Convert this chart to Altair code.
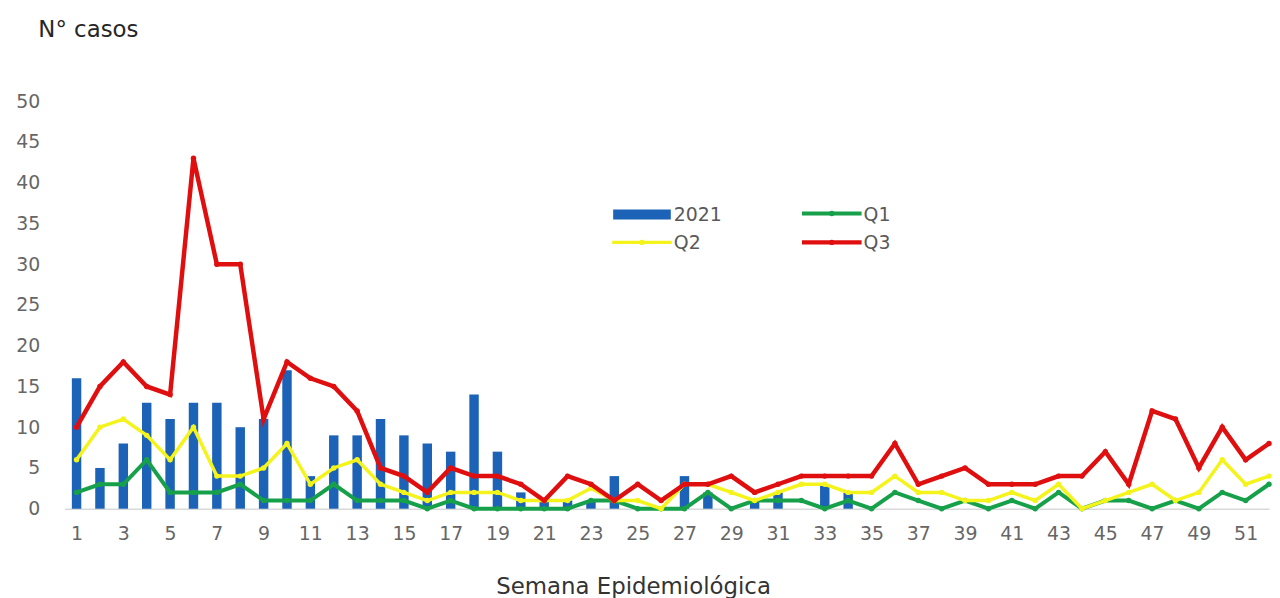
import altair as alt
import pandas as pd

weeks = list(range(1, 53))
cases_2021 = [16, 5, 8, 13, 11, 13, 13, 10, 11, 17, 4, 9, 9, 11, 9, 8, 7, 14, 7, 2,
              1, 1, 1, 4, 0, 0, 4, 2, 0, 1, 2, 0, 3, 2, 0, 0, 0, 0, 0, 0,
              0, 0, 0, 0, 0, 0, 0, 0, 0, 0, 0, 0]
q1 = [2, 3, 3, 6, 2, 2, 2, 3, 1, 1, 1, 3, 1, 1, 1, 0, 1, 0, 0, 0,
      0, 0, 1, 1, 0, 0, 0, 2, 0, 1, 1, 1, 0, 1, 0, 2, 1, 0, 1, 0,
      1, 0, 2, 0, 1, 1, 0, 1, 0, 2, 1, 3]
q2 = [6, 10, 11, 9, 6, 10, 4, 4, 5, 8, 3, 5, 6, 3, 2, 1, 2, 2, 2, 1,
      1, 1, 2.5, 1, 1, 0, 3, 3, 2, 1, 2, 3, 3, 2, 2, 4, 2, 2, 1, 1,
      2, 1, 3, 0, 1, 2, 3, 1, 2, 6, 3, 4]
q3 = [10, 15, 18, 15, 14, 43, 30, 30, 11, 18, 16, 15, 12, 5, 4, 2, 5, 4, 4, 3,
      1, 4, 3, 1, 3, 1, 3, 3, 4, 2, 3, 4, 4, 4, 4, 8, 3, 4, 5, 3,
      3, 3, 4, 4, 7, 3, 12, 11, 5, 10, 6, 8]
x_ticks = list(range(1, 52, 2))
y_ticks = list(range(0, 51, 5))
legend_labels = ["2021", "Q1", "Q2", "Q3"]

df = pd.DataFrame({"semana": weeks, "c2021": cases_2021, "Q1": q1, "Q2": q2, "Q3": q3})

FONT = "DejaVu Sans"
BLUE = "#1c63b7"
GREEN = "#17a04a"
YELLOW = "#f4f41c"
RED = "#e00f0f"

x_axis = alt.Axis(values=x_ticks, format="d", title="Semana Epidemiológica", grid=False,
                  ticks=False, domainColor="#d9d9d9", domainWidth=1.5,
                  labelFontSize=19, labelColor="#666666", labelFont=FONT, labelPadding=16,
                  labelFlush=False,
                  titleFontSize=23, titleFont=FONT, titleFontWeight="normal", titleColor="#333333",
                  titleX=572, titleY=85, titleAlign="center", titleBaseline="alphabetic")
y_axis = alt.Axis(values=y_ticks, title="N° casos", titleAngle=0, titleX=-27, titleY=-72,
                  titleAlign="left", titleBaseline="middle", titleFontSize=23, titleFont=FONT,
                  titleFontWeight="normal", titleColor="#262626",
                  domain=False, ticks=False, grid=False, labelPadding=25,
                  labelFontSize=19, labelColor="#666666", labelFont=FONT)

x_scale = alt.Scale(domain=[0.49, 52], nice=False, zero=False, padding=0)
y_scale = alt.Scale(domain=[0, 50], nice=False)


def xe():
    return alt.X("semana:Q", scale=x_scale, axis=x_axis)


def ye(field):
    return alt.Y(f"{field}:Q", scale=y_scale, axis=y_axis)


base = alt.Chart(df)
bars = base.mark_bar(color=BLUE, size=9.5).encode(x=xe(), y=ye("c2021"))


def line(field, color, width):
    return base.mark_line(color=color, strokeWidth=width, clip=False,
                          point=alt.OverlayMarkDef(filled=True, color=color, size=30)).encode(
        x=xe(), y=ye(field))


l1 = line("Q1", GREEN, 4)
l2 = line("Q2", YELLOW, 3.5)
l3 = line("Q3", RED, 4.5)

one = pd.DataFrame({"k": [0]})


def leg_text(label, x, y):
    return alt.Chart(one).mark_text(text=label, font=FONT, fontSize=19, color="#595959",
                                    align="left", baseline="middle").encode(
        x=alt.value(x), y=alt.value(y))


def leg_line(color, x, y, w):
    r = alt.Chart(one).mark_rule(color=color, strokeWidth=w).encode(
        x=alt.value(x), x2=alt.value(x + 60), y=alt.value(y))
    p = alt.Chart(one).mark_point(filled=True, color=color, size=30, opacity=1).encode(
        x=alt.value(x + 30), y=alt.value(y))
    return r + p


leg_rect = alt.Chart(one).mark_rect(color=BLUE).encode(
    x=alt.value(552), x2=alt.value(610), y=alt.value(109), y2=alt.value(119))

legend = (leg_rect + leg_text(legend_labels[0], 613, 114)
          + leg_line(GREEN, 742, 113, 4) + leg_text(legend_labels[1], 804, 114)
          + leg_line(YELLOW, 551, 142, 3.5) + leg_text(legend_labels[2], 613, 143)
          + leg_line(RED, 742, 142, 4.5) + leg_text(legend_labels[3], 804, 143))

chart = alt.layer(bars, l1, l2, l3, legend).properties(
    width=1212, height=410,
    autosize=alt.AutoSizeParams(type="none"),
    padding={"left": 57, "top": 92, "right": 3, "bottom": 88},
    background="white",
).configure_view(stroke=None)

chart.save("out.html", embed_options={"renderer": "svg", "actions": False})
